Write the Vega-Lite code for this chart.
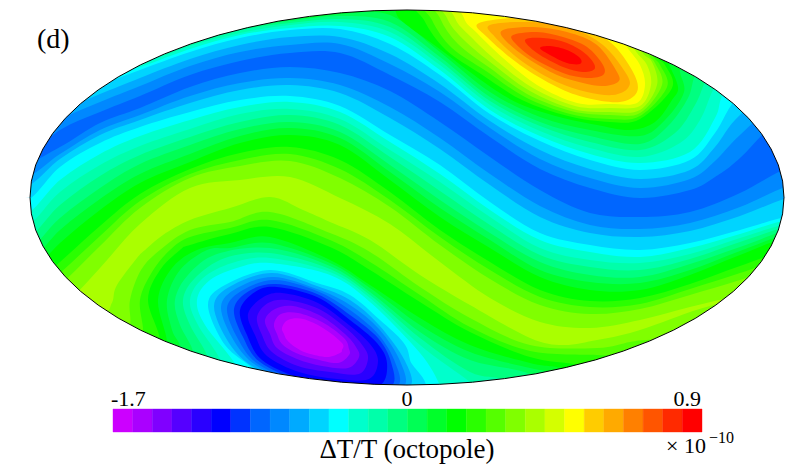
{"$schema":"https://vega.github.io/schema/vega-lite/v6.json","background":"white","padding":0,"spacing":0,"bounds":"flush","autosize":{"type":"pad","resize":false},"config":{"view":{"stroke":null}},
"vconcat":[
{"width":800,"height":388,"layer":[
{"data":{"values":[
{"c":0,"level":7,"xs":[-40,-40,840,840],"ys":[-60,460,460,-60]},
{"c":1,"level":8,"xs":[-40,20,60,100,140,190,240,290,340,390,440,490,540,590,640,690,740,795,840,840,-40],"ys":[165,165,147,123,108,87,73,67,73,91,122,157,190,213,217,212,193,165,165,460,460]},
{"c":2,"level":9,"xs":[-40,20,60,100,140,190,240,290,340,390,440,490,540,590,640,690,740,795,840,840,-40],"ys":[180,180,154,130,115,96,83,78,85,107,138,174,206,225,229,223,207,184,184,460,460]},
{"c":3,"level":10,"xs":[-40,20,60,100,140,190,240,290,340,390,440,490,540,590,640,690,740,795,840,840,-40],"ys":[190,190,159,135,120,103,90,85,93,118,149,185,217,233,237,231,216,196,196,460,460]},
{"c":4,"level":11,"xs":[-40,20,60,100,140,190,240,290,340,390,440,490,540,590,640,690,740,795,840,840,-40],"ys":[205,205,167,143,127,112,100,96,106,135,165,202,233,245,250,243,230,215,215,460,460]},
{"c":5,"level":12,"xs":[-40,20,60,100,140,190,240,290,340,390,440,490,540,590,640,690,740,795,840,840,-40],"ys":[218,218,180,154,136,120,107,102,112,142,174,210,240,252,257,248,234,218,218,460,460]},
{"c":6,"level":13,"xs":[-40,20,60,100,140,190,240,290,340,390,440,490,540,590,640,690,740,795,840,840,-40],"ys":[230,230,192,165,146,129,114,109,119,150,182,217,248,260,263,254,238,222,222,460,460]},
{"c":7,"level":14,"xs":[-40,20,60,100,140,190,240,290,340,390,440,490,540,590,640,690,740,795,840,840,-40],"ys":[243,243,205,176,155,137,122,115,125,157,191,225,255,267,270,259,242,225,225,460,460]},
{"c":8,"level":15,"xs":[-40,20,60,100,140,190,240,290,340,390,440,490,540,590,640,690,740,795,840,840,-40],"ys":[255,255,218,188,164,145,129,122,132,165,200,233,262,275,277,264,247,228,228,460,460]},
{"c":9,"level":16,"xs":[-40,20,60,100,140,190,240,290,340,390,440,490,540,590,640,690,740,795,840,840,-40],"ys":[268,268,230,199,174,154,136,128,138,172,208,240,270,282,283,270,251,232,232,460,460]},
{"c":10,"level":17,"xs":[-40,20,60,100,140,190,240,290,340,390,440,490,540,590,640,690,740,795,840,840,-40],"ys":[280,280,243,210,183,162,143,135,145,180,217,248,277,290,290,275,255,235,235,460,460]},
{"c":11,"level":18,"xs":[-40,20,60,100,140,190,240,290,340,390,440,490,540,590,640,690,740,795,840,840,-40],"ys":[297,297,262,226,194,169,153,147,160,192,230,262,290,301,298,284,266,248,248,460,460]},
{"c":12,"level":19,"xs":[-40,20,60,100,140,190,240,290,340,390,440,490,540,590,640,690,740,795,840,840,-40],"ys":[307,307,273,236,201,174,160,154,169,200,237,270,297,307,304,289,273,255,255,460,460]},
{"c":13,"level":20,"xs":[-40,20,60,100,140,190,240,290,340,390,440,490,540,590,640,690,740,795,840,840,-40],"ys":[317,317,285,246,208,178,166,161,178,207,245,279,305,314,309,295,280,263,263,460,460]},
{"c":14,"level":21,"xs":[-40,20,60,100,140,190,240,290,340,390,440,490,540,590,640,690,740,795,840,840,-40],"ys":[340,340,310,268,224,188,180,177,198,224,262,298,322,328,320,307,295,280,280,460,460]},
{"c":15,"level":8,"xs":[-40,20,60,100,140,190,240,290,340,390,440,490,540,590,640,690,715,740,795,840,840,-40],"ys":[160,160,130,112,96,75,61,53,53,75,102,137,169,188,198,190,177,158,105,105,-60,-60]},
{"c":16,"level":9,"xs":[-40,20,60,100,140,190,240,290,340,390,440,490,540,590,640,690,715,740,795,840,840,-40],"ys":[138,138,119,102,86,66,52,45,44,64,92,128,159,178,188,179,161,135,88,88,-60,-60]},
{"c":17,"level":10,"xs":[-40,20,60,100,140,190,240,290,340,390,440,490,540,590,640,690,715,740,795,840,840,-40],"ys":[119,119,110,94,78,59,45,37,37,54,84,121,150,169,179,170,147,115,74,74,-60,-60]},
{"c":18,"level":11,"xs":[-40,20,60,100,140,190,240,290,340,390,440,490,540,590,640,690,715,740,795,840,840,-40],"ys":[100,100,100,85,70,52,38,30,29,44,75,114,141,160,170,160,133,95,60,60,-60,-60]},
{"c":19,"level":12,"xs":[-40,100,130,140,190,240,290,340,390,440,490,540,590,640,690,715,722,740,840,840,-40],"ys":[60,60,66,67,49,35,28,26,37,70,110,136,154,163,152,118,96,60,40,-60,-60]},
{"c":20,"level":13,"xs":[-40,130,160,190,240,290,340,390,440,490,540,590,640,680,700,713,730,840,840,-40],"ys":[50,50,56,46,33,25,22,32,65,105,131,148,157,143,120,90,60,30,-60,-60]},
{"c":21,"level":14,"xs":[-40,165,190,240,290,340,390,440,490,540,590,640,675,695,705,720,840,840,-40],"ys":[40,44,43,30,23,19,27,61,101,126,142,150,133,105,82,50,20,-60,-60]},
{"c":22,"level":15,"xs":[-40,200,240,290,340,390,440,490,540,590,640,668,688,695,710,840,840,-40],"ys":[30,30,27,21,16,22,57,97,122,136,144,126,98,75,45,15,-60,-60]},
{"c":23,"level":16,"xs":[-40,270,300,340,390,440,490,540,590,640,665,684,680,695,840,840,-40],"ys":[10,10,18,14,15,52,92,117,130,136,120,92,67,40,10,-60,-60]},
{"c":24,"level":17,"xs":[385,395,403,437,470,503,530,563,597,630,655,672,678,668,660,620],"ys":[-20,10,22,47,72,95,108,118,125,130,122,100,87,62,40,-20]},
{"c":25,"level":18,"xs":[415,424,446,481,522,568,610,640,672,665,656,635,560],"ys":[-10,20,50,74,100,116,122,119,88,65,56,20,-20]},
{"c":26,"level":19,"xs":[425,432,452,486,525,570,610,640,667,660,652,632,560],"ys":[-10,20,48,71,97,114,119,116,87,65,55,20,-20]},
{"c":27,"level":20,"xs":[435,440,458,490,527,571,610,640,662,655,648,630,560],"ys":[-10,18,44,68,94,111,115,113,85,63,54,20,-20]},
{"c":28,"level":21,"xs":[443,447,464,494,530,573,610,640,657,652,642,625,560],"ys":[-10,18,40,65,91,109,112,110,85,62,52,20,-20]},
{"c":29,"level":22,"xs":[452,455,470,498,533,575,610,640,651,647,635,620,560],"ys":[-10,18,36,62,88,106,108,106,85,65,50,20,-20]},
{"c":30,"level":23,"xs":[462,464,477,503,537,577,610,637,645,640,627,610,560],"ys":[-10,18,33,58,85,103,104,103,85,65,47,20,-20]},
{"c":31,"level":24,"xs":[479,527,577,610,633,637,620,587,557,520,487],"ys":[23,18,28,42,72,92,102,98,87,65,37]},
{"c":32,"level":25,"xs":[490,530,570,603,627,628,613,587,557,523,495],"ys":[25,22,28,45,75,88,95,92,82,62,37]},
{"c":33,"level":26,"xs":[503,533,567,597,617,618,603,583,557,527,505],"ys":[30,27,32,45,72,82,86,83,75,58,40]},
{"c":34,"level":27,"xs":[513,537,563,587,603,603,587,563,533,515],"ys":[35,32,37,47,65,75,78,73,58,43]},
{"c":35,"level":28,"xs":[525,543,567,587,595,583,563,537],"ys":[40,38,43,55,68,72,67,53]},
{"c":36,"level":29,"xs":[540,550,567,580,580,567,550],"ys":[48,46,50,58,64,63,55]},
{"c":37,"level":20,"xs":[105,110,113,117,137,145,163,190,230,270,303,330,370,420,470,530,563,597,630,663,690,713,760,840,840,105],"ys":[330,308,300,285,258,250,235,220,208,197,210,222,240,275,305,338,345,340,333,322,312,305,290,270,460,460]},
{"c":38,"level":19,"xs":[120,130,130,141,160,190,230,270,330,370,420,470,530,597,630,647,680,840,840,120],"ys":[345,325,300,270,250,230,222,212,233,252,287,318,345,348,342,340,340,340,460,460]},
{"c":39,"level":18,"xs":[135,143,140,152,170,190,230,270,330,370,420,470,530,597,613,660,840,840,135],"ys":[350,332,300,272,250,237,228,220,240,262,295,327,351,355,356,360,360,460,460]},
{"c":40,"level":17,"xs":[150,160,148,160,180,190,230,270,330,370,420,470,530,580,620,840,840,150],"ys":[360,340,300,270,250,245,234,227,247,270,302,332,357,365,375,375,460,460]},
{"c":41,"level":16,"xs":[160,167,158,172,197,230,270,330,370,420,470,530,563,620,840,840,160],"ys":[360,342,300,268,250,243,237,260,285,318,345,363,368,380,380,460,460]},
{"c":42,"level":15,"xs":[172,180,172,167,180,207,230,270,330,370,420,470,530,550,600,600,172],"ys":[365,347,330,300,270,250,248,243,263,288,325,352,368,372,386,440,440]},
{"c":43,"level":14,"xs":[185,193,180,175,188,217,270,330,370,420,470,530,560,185],"ys":[370,352,325,300,275,254,248,266,292,332,360,374,400,440]},
{"c":44,"level":13,"xs":[200,207,190,183,195,225,270,330,370,420,470,505,530,200],"ys":[370,356,325,300,278,258,253,269,295,338,372,380,400,440]},
{"c":45,"level":12,"xs":[212,220,198,190,203,232,270,330,370,420,470,490,212],"ys":[375,360,325,300,278,263,258,272,298,345,382,400,440]},
{"c":46,"level":11,"xs":[228,235,205,197,210,240,270,330,370,420,440,445,228],"ys":[375,364,325,300,280,267,263,275,302,353,385,400,440]},
{"c":47,"level":10,"xs":[248,253,225,208,225,270,317,350,380,403,410,415,248],"ys":[378,369,345,305,285,270,283,295,320,342,360,400,440]},
{"c":48,"level":9,"xs":[214,231,272,317,350,379,405,409,365,300,255,229],"ys":[306,286,273,286,300,325,361,387,387,386,368,343]},
{"c":49,"level":8,"xs":[221,237,273,317,350,379,400,403,360,300,257,234],"ys":[307,288,277,289,305,329,361,387,387,384,366,341]},
{"c":50,"level":7,"xs":[227,243,275,317,350,378,395,397,355,300,258,238],"ys":[308,290,280,291,310,334,362,386,386,382,364,339]},
{"c":51,"level":6,"xs":[234,249,276,317,350,378,391,391,350,300,260,243],"ys":[309,291,284,294,315,338,362,386,386,380,362,337]},
{"c":52,"level":5,"xs":[240,255,277,317,350,377,387,380,345,300,262,247],"ys":[310,292,287,297,320,343,363,385,385,378,360,335]},
{"c":53,"level":4,"xs":[248,262,282,318,349,370,378,369,337,299,267,255],"ys":[314,298,293,303,325,344,361,379,379,372,356,335]},
{"c":54,"level":3,"xs":[257,268,287,319,347,363,368,359,330,298,272,262],"ys":[317,303,300,309,329,346,359,374,372,366,352,335]},
{"c":55,"level":2,"xs":[265,275,293,321,345,356,359,348,322,297,277,270],"ys":[320,309,306,316,334,347,357,368,366,359,348,334]},
{"c":56,"level":1,"xs":[274,281,298,322,344,349,349,338,315,296,282,277],"ys":[324,314,313,322,338,349,355,363,359,353,344,334]},
{"c":57,"level":0,"xs":[282,288,303,323,342,342,340,327,307,295,287,284],"ys":[328,320,319,328,343,350,353,357,353,347,340,334]}
]},"transform":[{"flatten":["xs","ys"]}],"mark":{"type":"line","interpolate":"cardinal-closed","clip":true,"stroke":null},"encoding":{"x":{"field":"xs","type":"quantitative","axis":null,"scale":{"domain":[0,800],"range":[0,800],"nice":false,"zero":false}},"y":{"field":"ys","type":"quantitative","axis":null,"scale":{"domain":[0,388],"range":[0,388],"nice":false,"zero":false}},"detail":{"field":"c","type":"nominal"},"order":{"value":null},"fill":{"field":"level","type":"ordinal","legend":null,"scale":{"domain":[0,1,2,3,4,5,6,7,8,9,10,11,12,13,14,15,16,17,18,19,20,21,22,23,24,25,26,27,28,29],"range":["#cc00ff","#aa00ff","#8000ff","#5500ff","#2a00ff","#0000ff","#0033ff","#0066ff","#0088ff","#00aaff","#00d4ff","#00ffff","#00ffcc","#00ffaa","#00ff80","#00ff55","#00ff2a","#00ff00","#2aff00","#55ff00","#80ff00","#aaff00","#d4ff00","#ffff00","#ffcc00","#ffaa00","#ff8000","#ff5500","#ff2a00","#ff0000"]}}}},
{"data":{"values":[
{"edge":0,"xs":[0,30,31.4,35.7,42.9,52.7,65.3,80.5,98.2,118.2,140.4,164.6,190.8,218.5,247.7,278.1,309.4,341.4,374.1,407,439.9,472.6,504.6,535.9,566.3,595.5,623.2,649.4,673.6,695.8,715.8,733.5,748.7,761.3,771.1,778.3,782.6,784,800],"ys":[200,197.5,181.1,164.9,149,133.4,118.3,103.7,89.9,76.9,64.9,53.9,43.9,35.1,27.6,21.2,16.4,12.8,10.7,10,10.7,12.8,16.4,21.2,27.6,35.1,43.9,53.9,64.9,76.9,89.9,103.7,118.3,133.4,149,164.9,181.1,197.5,200]},
{"edge":388,"xs":[0,30,31.4,35.7,42.9,52.7,65.3,80.5,98.2,118.2,140.4,164.6,190.8,218.5,247.7,278.1,309.4,341.4,374.1,407,439.9,472.6,504.6,535.9,566.3,595.5,623.2,649.4,673.6,695.8,715.8,733.5,748.7,761.3,771.1,778.3,782.6,784,800],"ys":[195,197.5,213.9,230.1,246,261.6,276.7,291.3,305.1,318.1,330.1,341.1,351.1,359.9,367.4,373.8,378.6,382.2,384.3,385,384.3,382.2,378.6,373.8,367.4,359.9,351.1,341.1,330.1,318.1,305.1,291.3,276.7,261.6,246,230.1,213.9,197.5,195]}
]},"transform":[{"flatten":["xs","ys"]}],"mark":{"type":"area","color":"white","clip":true},"encoding":{"x":{"field":"xs","type":"quantitative"},"y":{"field":"ys","type":"quantitative"},"y2":{"field":"edge"},"detail":{"field":"edge","type":"nominal"}}},
{"data":{"values":[
{"side":"upper","xs":[30,31.4,35.7,42.9,52.7,65.3,80.5,98.2,118.2,140.4,164.6,190.8,218.5,247.7,278.1,309.4,341.4,374.1,407,439.9,472.6,504.6,535.9,566.3,595.5,623.2,649.4,673.6,695.8,715.8,733.5,748.7,761.3,771.1,778.3,782.6,784],"ys":[197.5,181.1,164.9,149,133.4,118.3,103.7,89.9,76.9,64.9,53.9,43.9,35.1,27.6,21.2,16.4,12.8,10.7,10,10.7,12.8,16.4,21.2,27.6,35.1,43.9,53.9,64.9,76.9,89.9,103.7,118.3,133.4,149,164.9,181.1,197.5]},
{"side":"lower","xs":[30,31.4,35.7,42.9,52.7,65.3,80.5,98.2,118.2,140.4,164.6,190.8,218.5,247.7,278.1,309.4,341.4,374.1,407,439.9,472.6,504.6,535.9,566.3,595.5,623.2,649.4,673.6,695.8,715.8,733.5,748.7,761.3,771.1,778.3,782.6,784],"ys":[197.5,213.9,230.1,246,261.6,276.7,291.3,305.1,318.1,330.1,341.1,351.1,359.9,367.4,373.8,378.6,382.2,384.3,385,384.3,382.2,378.6,373.8,367.4,359.9,351.1,341.1,330.1,318.1,305.1,291.3,276.7,261.6,246,230.1,213.9,197.5]}
]},"transform":[{"flatten":["xs","ys"]}],"mark":{"type":"line","stroke":"#000000","strokeWidth":1},"encoding":{"x":{"field":"xs","type":"quantitative"},"y":{"field":"ys","type":"quantitative"},"detail":{"field":"side","type":"nominal"},"order":{"value":null}}},
{"data":{"values":[{"xs":37,"ys":48,"label":"(d)"}]},"mark":{"type":"text","font":"Liberation Serif","fontSize":28,"align":"left","baseline":"alphabetic","color":"#000000"},"encoding":{"x":{"field":"xs","type":"quantitative"},"y":{"field":"ys","type":"quantitative"},"text":{"field":"label"}}}
]},
{"width":800,"height":79,"data":{"values":[{"level":0},{"level":1},{"level":2},{"level":3},{"level":4},{"level":5},{"level":6},{"level":7},{"level":8},{"level":9},{"level":10},{"level":11},{"level":12},{"level":13},{"level":14},{"level":15},{"level":16},{"level":17},{"level":18},{"level":19},{"level":20},{"level":21},{"level":22},{"level":23},{"level":24},{"level":25},{"level":26},{"level":27},{"level":28},{"level":29}]},
"layer":[
{"mark":{"type":"bar","y":21,"y2":44,"strokeWidth":0.4},"encoding":{"x":{"field":"level","type":"ordinal","sort":null,"axis":null,"scale":{"range":[113,702],"paddingInner":0,"paddingOuter":0}},"color":{"field":"level","type":"ordinal","legend":null,"scale":{"domain":[0,1,2,3,4,5,6,7,8,9,10,11,12,13,14,15,16,17,18,19,20,21,22,23,24,25,26,27,28,29],"range":["#cc00ff","#aa00ff","#8000ff","#5500ff","#2a00ff","#0000ff","#0033ff","#0066ff","#0088ff","#00aaff","#00d4ff","#00ffff","#00ffcc","#00ffaa","#00ff80","#00ff55","#00ff2a","#00ff00","#2aff00","#55ff00","#80ff00","#aaff00","#d4ff00","#ffff00","#ffcc00","#ffaa00","#ff8000","#ff5500","#ff2a00","#ff0000"]}},"stroke":{"field":"level","type":"ordinal","legend":null,"scale":{"domain":[0,1,2,3,4,5,6,7,8,9,10,11,12,13,14,15,16,17,18,19,20,21,22,23,24,25,26,27,28,29],"range":["#cc00ff","#aa00ff","#8000ff","#5500ff","#2a00ff","#0000ff","#0033ff","#0066ff","#0088ff","#00aaff","#00d4ff","#00ffff","#00ffcc","#00ffaa","#00ff80","#00ff55","#00ff2a","#00ff00","#2aff00","#55ff00","#80ff00","#aaff00","#d4ff00","#ffff00","#ffcc00","#ffaa00","#ff8000","#ff5500","#ff2a00","#ff0000"]}}}},
{"data":{"values":[{"label":"-1.7"}]},"mark":{"type":"text","x":111,"y":18,"align":"left","baseline":"alphabetic","font":"Liberation Serif","fontSize":22,"color":"#000000"},"encoding":{"text":{"field":"label"}}},
{"data":{"values":[{"label":"0"}]},"mark":{"type":"text","x":407,"y":18,"align":"center","baseline":"alphabetic","font":"Liberation Serif","fontSize":22,"color":"#000000"},"encoding":{"text":{"field":"label"}}},
{"data":{"values":[{"label":"0.9"}]},"mark":{"type":"text","x":701,"y":18,"align":"right","baseline":"alphabetic","font":"Liberation Serif","fontSize":22,"color":"#000000"},"encoding":{"text":{"field":"label"}}},
{"data":{"values":[{"label":"ΔT/T (octopole)"}]},"mark":{"type":"text","x":407,"y":70,"align":"center","baseline":"alphabetic","font":"Liberation Serif","fontSize":27,"color":"#000000"},"encoding":{"text":{"field":"label"}}},
{"data":{"values":[{"label":"× 10"}]},"mark":{"type":"text","x":666,"y":65,"align":"left","baseline":"alphabetic","font":"Liberation Serif","fontSize":22,"color":"#000000"},"encoding":{"text":{"field":"label"}}},
{"data":{"values":[{"label":"−10"}]},"mark":{"type":"text","x":709,"y":55,"align":"left","baseline":"alphabetic","font":"Liberation Serif","fontSize":16,"color":"#000000"},"encoding":{"text":{"field":"label"}}}
]}
]}
